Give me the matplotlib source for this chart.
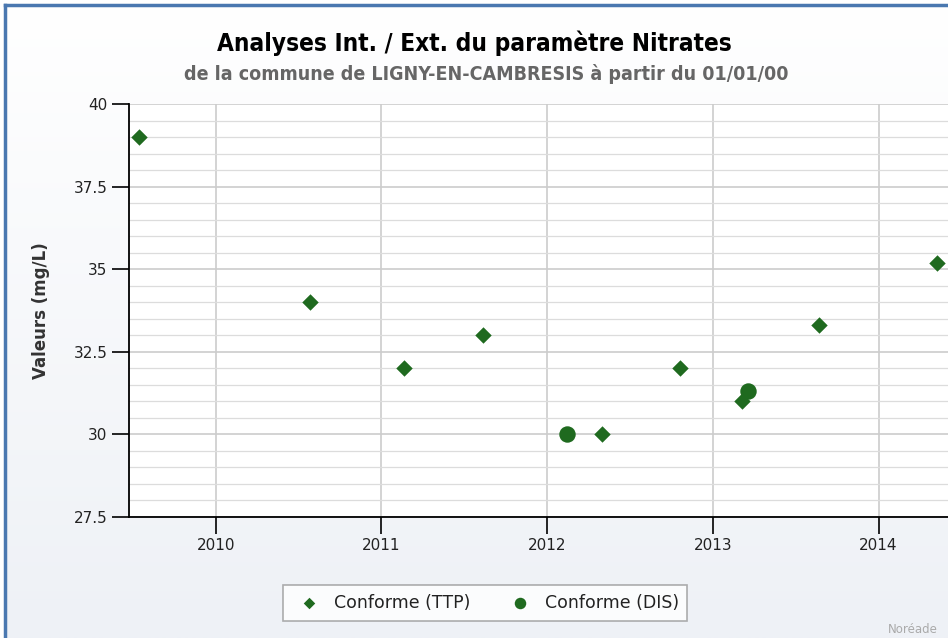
import datetime as dt
import numpy as np
import matplotlib
matplotlib.use("Agg")
import matplotlib.pyplot as plt
import matplotlib.dates as mdates
from matplotlib.ticker import MultipleLocator, FuncFormatter

# data
ttp_dates = ["2009-07-15", "2010-07-28", "2011-02-21", "2011-08-14", "2012-05-01",
             "2012-10-20", "2013-03-05", "2013-08-23", "2014-05-10"]
ttp_vals = [39, 34, 32, 33, 30, 32, 31, 33.3, 35.2]
dis_dates = ["2012-02-14", "2013-03-20"]
dis_vals = [30, 31.3]

green = "#1f6a1f"

def to_dt(lst):
    return [dt.datetime.strptime(s, "%Y-%m-%d") for s in lst]

fig = plt.figure(figsize=(9.48, 6.38), dpi=100)

# background with a faint gradient + blue frame
bg = fig.add_axes([0, 0, 1, 1], zorder=-10)
grad = np.linspace(0, 1, 256).reshape(-1, 1)
bg.imshow(grad, aspect="auto", extent=[0, 1, 0, 1], origin="upper",
          cmap=matplotlib.colors.LinearSegmentedColormap.from_list("g", ["#ffffff", "#eef1f6"]))
bg.plot([0.0058, 0.0058], [0, 0.9925], color="#4a78b0", lw=2.5)
bg.plot([0.0058, 1], [0.9925, 0.9925], color="#4a78b0", lw=2.5)
bg.fill_between([0, 0.0045], 0, 1, color="white")
bg.fill_between([0, 1], 0.994, 1, color="white")
bg.set_xlim(0, 1)
bg.set_ylim(0, 1)
bg.axis("off")

ax = fig.add_axes([0.1361, 0.1897, 0.8639, 0.6473])
ax.set_facecolor("white")
ax.scatter(to_dt(ttp_dates), ttp_vals, marker="D", s=70, color=green, zorder=3,
           label="Conforme (TTP)", linewidths=0)
ax.scatter(to_dt(dis_dates), dis_vals, marker="o", s=140, color=green, zorder=3,
           label="Conforme (DIS)", linewidths=0)

ax.set_xlim(dt.datetime(2009, 6, 24), dt.datetime(2014, 6, 3))
ax.set_ylim(27.5, 40)
ax.xaxis.set_major_locator(mdates.YearLocator())
ax.xaxis.set_major_formatter(mdates.DateFormatter("%Y"))
ax.yaxis.set_major_locator(MultipleLocator(2.5))
ax.yaxis.set_minor_locator(MultipleLocator(0.5))
ax.yaxis.set_major_formatter(FuncFormatter(lambda v, p: "%g" % v))

ax.grid(True, which="major", color="#cccccc", lw=1.2)
ax.grid(True, which="minor", axis="y", color="#dcdcdc", lw=0.9)
ax.set_axisbelow(True)
for s in ["top", "right"]:
    ax.spines[s].set_visible(False)
ax.spines["left"].set_linewidth(1.3)
ax.spines["bottom"].set_linewidth(1.3)
ax.tick_params(axis="both", which="major", length=12, width=1.2, colors="black",
               labelsize=11, labelcolor="#222222")
ax.tick_params(axis="y", which="minor", length=0)
ax.tick_params(axis="x", pad=3)

ax.set_ylabel("Valeurs (mg/L)", fontsize=12, fontweight="bold", color="#333333", labelpad=17)

fig.text(0.5, 0.932, "Analyses Int. / Ext. du paramètre Nitrates", ha="center", va="center",
         fontsize=17.5, fontweight="bold", fontstretch="condensed", color="black")
fig.text(0.513, 0.884, "de la commune de LIGNY-EN-CAMBRESIS à partir du 01/01/00", ha="center",
         va="center", fontsize=14, fontweight="bold", fontstretch="condensed", color="#666666")

leg = fig.legend(loc="center", bbox_to_anchor=(0.512, 0.0549), ncol=2, fontsize=12.5,
                 frameon=True, fancybox=False, edgecolor="#999999", handletextpad=0.4,
                 handlelength=2.0, columnspacing=1.9, borderpad=0.5, markerscale=0.7)
leg.get_frame().set_linewidth(1.2)
for t in leg.get_texts():
    t.set_color("#222222")

fig.text(0.937, 0.003, "Noréade", fontsize=8.5, color="#aaaaaa", ha="left", va="bottom")

fig.savefig("out.png", dpi=100)
